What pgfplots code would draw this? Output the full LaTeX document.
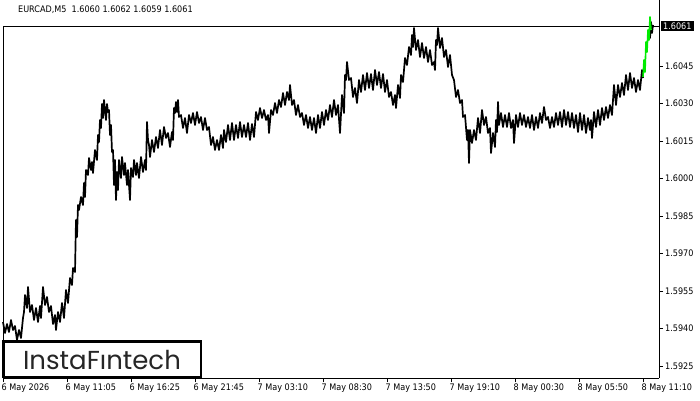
\documentclass[border=0pt]{standalone}
\usepackage{pgfplots}
\pgfplotsset{compat=1.18}
\usepackage{fontspec}
\setmainfont{DejaVu Sans Condensed}
\newfontfamily\logofont{Poppins}
\definecolor{barg}{RGB}{0,235,0}
\definecolor{logogray}{RGB}{38,38,38}
\begin{document}
\begin{tikzpicture}[x=1pt,y=1pt]
\useasboundingbox (-3,-22) rectangle (697,378);
\begin{axis}[at={(0,0)}, anchor=south west, scale only axis,
  width=656pt, height=378pt,
  xmin=0, xmax=656, ymin=1.59202, ymax=1.60714,
  axis x line*=bottom, axis y line*=right,
  axis line style={black, line width=0.8pt},
  xtick={0,64,128,192,256,320,384,448,512,576,640},
  xticklabels={6 May 2026,6 May 11:05,6 May 16:25,6 May 21:45,7 May 03:10,7 May 08:30,7 May 13:50,7 May 19:10,8 May 00:30,8 May 05:50,8 May 11:10},
  ytick={1.5925,1.594,1.5955,1.597,1.5985,1.6,1.6015,1.603,1.6045},
  /pgf/number format/assume math mode=true,
  y tick label style={/pgf/number format/fixed,/pgf/number format/fixed zerofill,/pgf/number format/precision=4,
     anchor=west, inner sep=0pt, xshift=2pt, font=\fontsize{9}{10}\selectfont},
  x tick label style={anchor=north west, inner sep=0pt, xshift=-1.5pt, yshift=-2pt, font=\fontsize{9}{10}\selectfont},
  tick align=outside, major tick length=4pt,
  tick style={black, line width=0.6pt},
  clip=false,
]
\addplot[black, line width=0.6pt] coordinates {(0,1.6061) (656,1.6061)};
\addplot[black, line width=1.7pt, line join=round] coordinates {
(0,1.59426) (2,1.59382) (4,1.59418) (6,1.59386) (8,1.59434) (10,1.59394) (12,1.59410) (14,1.59354)
(16,1.59394) (18,1.59362) (20,1.59442) (21,1.59466) (22,1.59534) (24,1.59482) (25,1.59566) (27,1.59466)
(29,1.59494) (31,1.59434) (33,1.59482) (35,1.59426) (37,1.59490) (38,1.59442) (40,1.59566) (42,1.59494)
(44,1.59526) (46,1.59466) (48,1.59490) (50,1.59418) (52,1.59454) (53,1.59394) (55,1.59466) (57,1.59426)
(59,1.59502) (61,1.59442) (63,1.59554) (65,1.59502) (67,1.59602) (69,1.59574) (70,1.59642) (72,1.59626)
(73,1.59834) (74,1.59766) (75,1.59894) (76,1.59874) (78,1.59926) (80,1.59894) (81,1.59982) (82,1.59926)
(83,1.60034) (85,1.60014) (86,1.60082) (88,1.60034) (89,1.60066) (90,1.60022) (92,1.60114) (94,1.60074)
(95,1.60174) (96,1.60146) (97,1.60234) (98,1.60202) (99,1.60298) (100,1.60242) (101,1.60314) (103,1.60234)
(104,1.60298) (105,1.60266) (106,1.60274) (107,1.60174) (108,1.60214) (109,1.60106) (110,1.60114) (111,1.59974)
(112,1.60074) (113,1.59914) (114,1.60026) (115,1.59954) (116,1.60074) (118,1.60002) (119,1.60086) (121,1.60014)
(122,1.60062) (124,1.59974) (125,1.60034) (127,1.59914) (128,1.60042) (130,1.60006) (131,1.60074) (133,1.60014)
(134,1.60062) (136,1.60002) (138,1.60086) (140,1.60026) (142,1.60074) (143,1.60034) (144,1.60226) (145,1.60154)
(146,1.60134) (147,1.60086) (149,1.60154) (151,1.60106) (153,1.60166) (155,1.60122) (157,1.60194) (159,1.60134)
(161,1.60206) (163,1.60162) (165,1.60182) (167,1.60126) (169,1.60186) (170,1.60154) (171,1.60282) (172,1.60262)
(173,1.60306) (174,1.60266) (175,1.60314) (176,1.60246) (178,1.60254) (180,1.60202) (182,1.60242) (184,1.60182)
(186,1.60254) (188,1.60222) (190,1.60262) (192,1.60214) (194,1.60266) (196,1.60222) (198,1.60246) (200,1.60194)
(202,1.60242) (204,1.60194) (206,1.60206) (208,1.60134) (210,1.60166) (212,1.60114) (214,1.60154) (216,1.60114)
(218,1.60174) (220,1.60122) (221,1.60194) (223,1.60146) (225,1.60214) (227,1.60154) (229,1.60222) (231,1.60154)
(233,1.60214) (235,1.60162) (237,1.60226) (239,1.60166) (241,1.60214) (243,1.60166) (245,1.60222) (247,1.60154)
(249,1.60218) (251,1.60166) (253,1.60266) (255,1.60234) (257,1.60282) (259,1.60242) (261,1.60274) (263,1.60234)
(265,1.60254) (266,1.60182) (268,1.60274) (270,1.60254) (272,1.60302) (274,1.60262) (276,1.60314) (278,1.60286)
(280,1.60342) (282,1.60294) (284,1.60346) (286,1.60314) (287,1.60374) (289,1.60294) (291,1.60314) (293,1.60254)
(295,1.60294) (297,1.60246) (299,1.60262) (301,1.60214) (303,1.60254) (305,1.60202) (307,1.60246) (309,1.60194)
(311,1.60242) (313,1.60182) (315,1.60254) (317,1.60202) (319,1.60266) (321,1.60214) (323,1.60274) (325,1.60234)
(327,1.60294) (329,1.60246) (331,1.60314) (333,1.60254) (335,1.60294) (337,1.60182) (339,1.60334) (341,1.60262)
(342,1.60414) (343,1.60394) (344,1.60466) (346,1.60394) (348,1.60402) (350,1.60326) (352,1.60362) (354,1.60302)
(356,1.60394) (358,1.60346) (360,1.60414) (362,1.60354) (364,1.60422) (366,1.60362) (368,1.60418) (370,1.60354)
(372,1.60434) (374,1.60374) (376,1.60426) (378,1.60362) (380,1.60418) (382,1.60346) (384,1.60394) (386,1.60326)
(388,1.60346) (390,1.60294) (392,1.60334) (393,1.60282) (395,1.60374) (397,1.60322) (398,1.60414) (400,1.60386)
(402,1.60482) (404,1.60454) (406,1.60526) (408,1.60494) (409,1.60574) (410,1.60526) (411,1.60602) (413,1.60514)
(415,1.60554) (417,1.60486) (419,1.60542) (421,1.60482) (423,1.60526) (425,1.60466) (427,1.60514) (429,1.60454)
(431,1.60466) (432,1.60434) (433,1.60554) (434,1.60534) (435,1.60602) (437,1.60522) (439,1.60562) (441,1.60486)
(443,1.60514) (445,1.60446) (447,1.60494) (449,1.60414) (451,1.60394) (453,1.60326) (455,1.60354) (457,1.60302)
(459,1.60314) (460,1.60246) (462,1.60254) (464,1.60154) (465,1.60194) (466,1.60062) (467,1.60194) (469,1.60142)
(471,1.60194) (473,1.60154) (475,1.60242) (477,1.60182) (479,1.60274) (481,1.60214) (483,1.60246) (485,1.60182)
(487,1.60202) (488,1.60102) (490,1.60182) (492,1.60126) (493,1.60234) (494,1.60186) (495,1.60306) (496,1.60214)
(498,1.60262) (500,1.60206) (502,1.60254) (504,1.60206) (506,1.60262) (508,1.60202) (510,1.60234) (511,1.60142)
(513,1.60254) (515,1.60206) (517,1.60262) (519,1.60214) (521,1.60254) (523,1.60206) (525,1.60246) (527,1.60202)
(529,1.60254) (531,1.60194) (533,1.60246) (535,1.60202) (537,1.60262) (539,1.60222) (541,1.60286) (543,1.60234)
(545,1.60246) (547,1.60202) (549,1.60246) (551,1.60206) (553,1.60262) (555,1.60214) (557,1.60266) (559,1.60206)
(561,1.60274) (563,1.60214) (565,1.60266) (567,1.60206) (569,1.60262) (571,1.60202) (573,1.60254) (575,1.60186)
(577,1.60262) (579,1.60194) (581,1.60254) (583,1.60182) (585,1.60242) (587,1.60194) (588,1.60234) (589,1.60162)
(591,1.60266) (593,1.60206) (595,1.60274) (597,1.60214) (599,1.60282) (601,1.60234) (603,1.60286) (605,1.60242)
(607,1.60294) (609,1.60254) (611,1.60374) (613,1.60294) (615,1.60374) (617,1.60326) (619,1.60382) (621,1.60334)
(623,1.60414) (625,1.60354) (627,1.60422) (629,1.60362) (631,1.60402) (633,1.60346) (635,1.60394) (637,1.60354)
(639,1.60434) (640,1.60402)
};
\addplot[black, line width=1.7pt, line join=round] coordinates {(646,1.60594) (647,1.60562) (648,1.60626) (649,1.60582) (650,1.60614)};
\addplot[barg, line width=1.6pt, line join=round] coordinates {(640,1.60406) (641,1.60474) (642,1.60426) (643,1.60546) (644,1.60506) (645,1.60594) (646,1.60554) (647,1.60646) (648,1.60594)};
\end{axis}
\draw[black, line width=0.8pt] (0,0) -- (0,352);
\node[fill=black, text=white, anchor=west, inner xsep=2pt, inner ysep=1.5pt, font=\fontsize{9}{10}\selectfont] at (658,352) {1.6061};
\node[anchor=west, inner sep=0pt, font=\fontsize{9}{10}\selectfont] at (15,368) {EURCAD,M5\ \ 1.6060 1.6062 1.6059 1.6061};
\draw[black, line width=2.5pt, fill=white] (0.25,1.25) rectangle (197.75,36.75);
\node[anchor=base, inner sep=0pt, text=logogray, font=\logofont\fontsize{26}{28}\selectfont] at (99,8.7) {InstaFıntech};
\end{tikzpicture}
\end{document}
